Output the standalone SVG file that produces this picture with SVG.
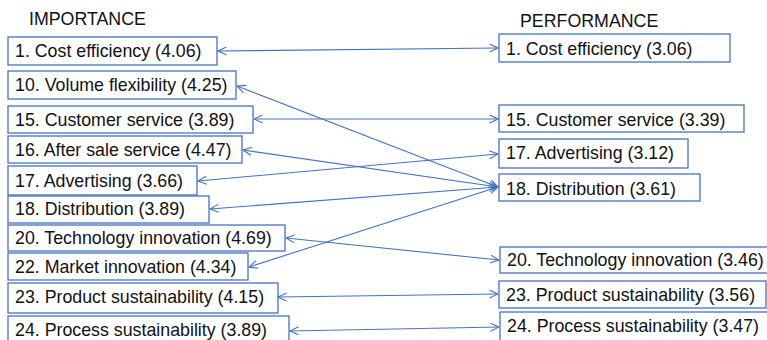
<svg xmlns="http://www.w3.org/2000/svg" width="767" height="340" viewBox="0 0 767 340">
<style>
.box{fill:#fff;stroke:#4472C4;stroke-width:1.3}
.t{font-family:"Liberation Sans",Arial,sans-serif;font-size:17.8px;fill:#111}
.c{fill:none;stroke:#4472C4;stroke-width:1.1;marker-start:url(#a);marker-end:url(#a)}
</style>
<defs>
<marker id="a" viewBox="0 0 10 10" refX="9.5" refY="5" markerWidth="10" markerHeight="10" markerUnits="userSpaceOnUse" orient="auto-start-reverse">
<path d="M1,1 L9.5,5 L1,9" fill="none" stroke="#4472C4" stroke-width="1.1"/>
</marker>
</defs>
<rect width="767" height="340" fill="#fff"/>
<text class="t" x="29" y="25">IMPORTANCE</text>
<text class="t" x="520" y="26.5">PERFORMANCE</text>
<g id="L1"><rect class="box" x="8" y="37" width="209" height="28"/><text class="t" x="15" y="57">1. Cost efficiency (4.06)</text></g>
<g id="L10"><rect class="box" x="8" y="71" width="228" height="28"/><text class="t" x="15" y="91">10. Volume flexibility (4.25)</text></g>
<g id="L15"><rect class="box" x="8" y="106" width="245" height="27"/><text class="t" x="15" y="125.5">15. Customer service (3.89)</text></g>
<g id="L16"><rect class="box" x="8" y="136" width="234" height="27"/><text class="t" x="15" y="155.5">16. After sale service (4.47)</text></g>
<g id="L17"><rect class="box" x="8" y="166" width="189" height="29"/><text class="t" x="15" y="186.5">17. Advertising (3.66)</text></g>
<g id="L18"><rect class="box" x="8" y="196" width="201" height="27"/><text class="t" x="15" y="215">18. Distribution (3.89)</text></g>
<g id="L20"><rect class="box" x="8" y="225" width="277" height="26"/><text class="t" x="15" y="244">20. Technology innovation (4.69)</text></g>
<g id="L22"><rect class="box" x="8" y="253" width="240" height="27"/><text class="t" x="15" y="273">22. Market innovation (4.34)</text></g>
<g id="L23"><rect class="box" x="8" y="283" width="270" height="30"/><text class="t" x="15" y="302.5">23. Product sustainability (4.15)</text></g>
<g id="L24"><rect class="box" x="8" y="316" width="281" height="30"/><text class="t" x="15" y="336">24. Process sustainability (3.89)</text></g>
<g id="R1"><rect class="box" x="499" y="34" width="231" height="28"/><text class="t" x="506" y="54.5">1. Cost efficiency (3.06)</text></g>
<g id="R15"><rect class="box" x="499" y="105" width="245" height="27"/><text class="t" x="506" y="125.5">15. Customer service (3.39)</text></g>
<g id="R17"><rect class="box" x="499" y="139" width="189" height="29"/><text class="t" x="506" y="159">17. Advertising (3.12)</text></g>
<g id="R18"><rect class="box" x="499" y="174" width="201" height="27"/><text class="t" x="506" y="194.5">18. Distribution (3.61)</text></g>
<g id="R20"><rect class="box" x="500" y="247" width="280" height="26"/><text class="t" x="507" y="266">20. Technology innovation (3.46)</text></g>
<g id="R23"><rect class="box" x="499" y="281" width="267" height="27"/><text class="t" x="506" y="300.5">23. Product sustainability (3.56)</text></g>
<g id="R24"><rect class="box" x="500" y="312" width="280" height="30"/><text class="t" x="507" y="332">24. Process sustainability (3.47)</text></g>
<g id="connectors">
<line class="c" x1="218" y1="51" x2="498" y2="48"/>
<line class="c" x1="237" y1="86" x2="498" y2="187"/>
<line class="c" x1="254" y1="119" x2="498" y2="119"/>
<line class="c" x1="243" y1="150" x2="498" y2="187"/>
<line class="c" x1="198" y1="181" x2="498" y2="154"/>
<line class="c" x1="210" y1="209" x2="498" y2="187"/>
<line class="c" x1="286" y1="238" x2="499" y2="260"/>
<line class="c" x1="249" y1="267" x2="498" y2="187"/>
<line class="c" x1="278" y1="297" x2="498" y2="294"/>
<line class="c" x1="290" y1="331" x2="499" y2="327"/>
</g>
</svg>
